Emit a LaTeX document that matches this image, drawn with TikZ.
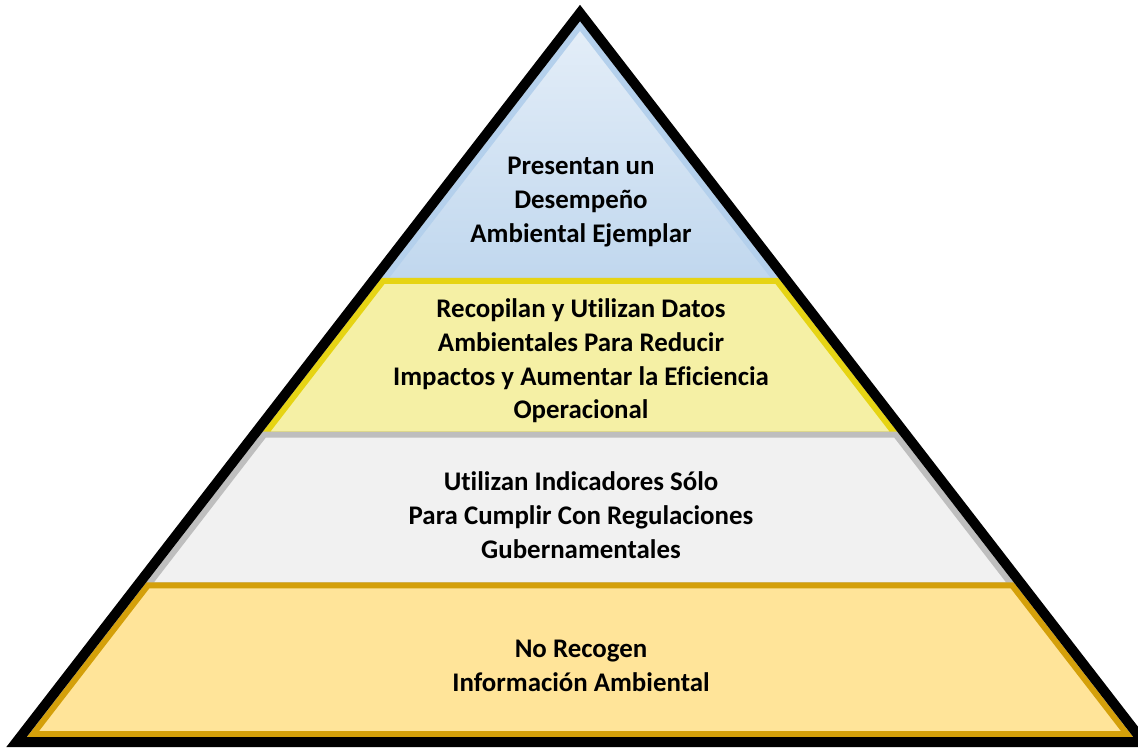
\documentclass[tikz,border=0pt]{standalone}
\usepackage{fontspec}
\setmainfont[Ligatures={NoCommon}]{Carlito}
\usetikzlibrary{calc}

\definecolor{BlueEdge}{RGB}{180,208,236}
\definecolor{BlueLight}{RGB}{228,238,248}
\definecolor{BlueDeep}{RGB}{192,215,238}
\definecolor{YellowEdge}{RGB}{230,212,20}
\definecolor{YellowFill}{RGB}{245,240,165}
\definecolor{GreyEdge}{RGB}{190,190,190}
\definecolor{GreyFill}{RGB}{241,241,241}
\definecolor{GoldEdge}{RGB}{212,160,10}
\definecolor{GoldFill}{RGB}{255,228,153}

\begin{document}
\begin{tikzpicture}[x=0.02cm, y=-0.02cm,
        band/.style={line width=0.12cm, line join=miter},
        label/.style={font=\fontsize{15.3}{19.2}\selectfont\bfseries, align=center, text=black}]
        \useasboundingbox (0,0) rectangle (1138,748);
        \clip (0,0) rectangle (1138,748);

        % outer and inner triangles
        \coordinate (top) at (580,13);
        \coordinate (left) at (16.5,742);
        \coordinate (right) at (1143.5,742);
        \coordinate (itop) at (580,26);
        \coordinate (ileft) at (33,734);
        \coordinate (iright) at (1127,734);

        % bands, from the apex down
        \draw [band, draw=BlueEdge, top color=BlueLight, bottom color=BlueDeep] (itop) -- ($(itop)!0.360!(iright)$) -- ($(itop)!0.360!(ileft)$) -- cycle;
        \draw [band, draw=YellowEdge, fill=YellowFill] ($(itop)!0.360!(ileft)$) -- ($(itop)!0.360!(iright)$) -- ($(itop)!0.577!(iright)$) -- ($(itop)!0.577!(ileft)$) -- cycle;
        \draw [band, draw=GreyEdge, fill=GreyFill] ($(itop)!0.577!(ileft)$) -- ($(itop)!0.577!(iright)$) -- ($(itop)!0.790!(iright)$) -- ($(itop)!0.790!(ileft)$) -- cycle;
        \draw [band, draw=GoldEdge, fill=GoldFill] ($(itop)!0.790!(ileft)$) -- ($(itop)!0.790!(iright)$) -- (iright) -- (ileft) -- cycle;

        \draw [line width=0.2cm, line join=miter] (top) -- (right) -- (left) -- cycle;

        \node[label] (desempeno) at (581,202) {Presentan un\\Desempeño\\Ambiental Ejemplar};
        \node[label] (datos) at (581,361) {Recopilan y Utilizan Datos\\Ambientales Para Reducir\\Impactos y Aumentar la Eficiencia\\Operacional};
        \node[label] (indicadores) at (581,515) {Utilizan Indicadores Sólo\\Para Cumplir Con Regulaciones\\Gubernamentales};
        \node[label] (norecogen) at (581,666) {No Recogen\\Información Ambiental};
\end{tikzpicture}
\end{document}
